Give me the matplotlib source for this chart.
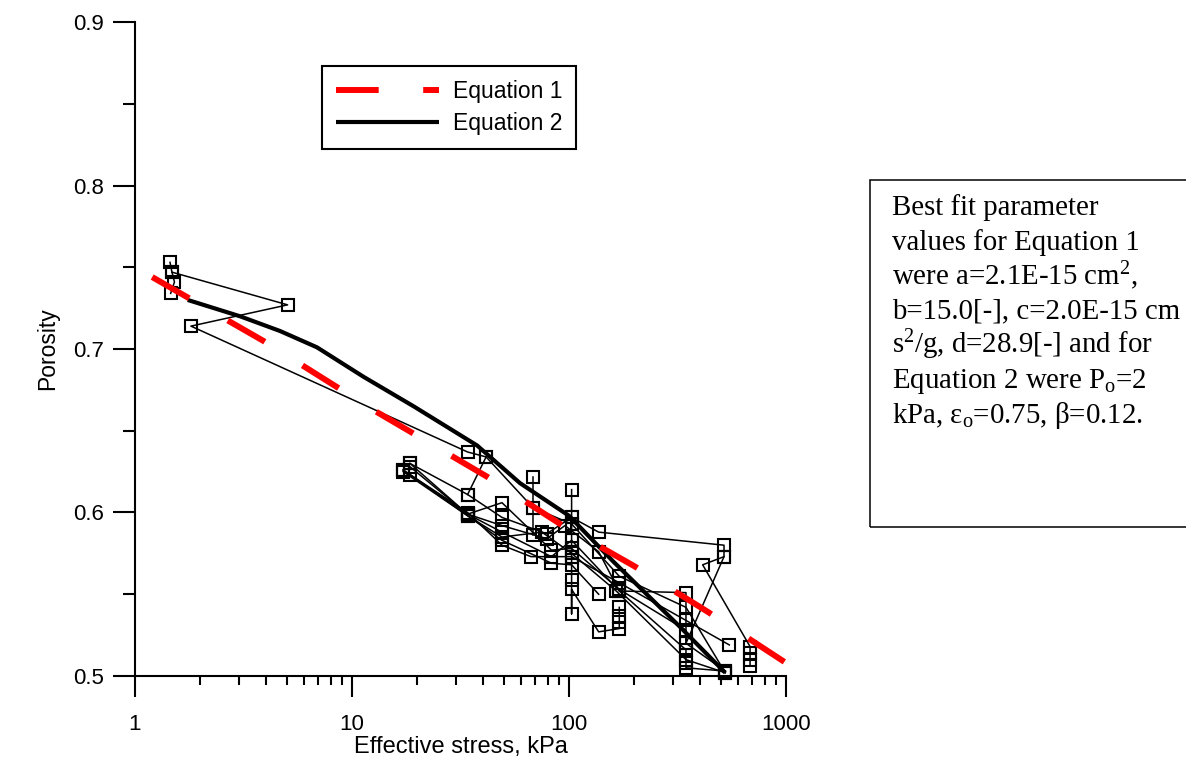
import numpy as np
import matplotlib.pyplot as plt
from matplotlib.ticker import FixedLocator, FixedFormatter, NullFormatter, MultipleLocator
from matplotlib.patches import Rectangle

plt.rcParams['font.family'] = ['Liberation Sans', 'DejaVu Sans']
plt.rcParams['mathtext.fontset'] = 'custom'
plt.rcParams['mathtext.rm'] = 'Liberation Serif'
plt.rcParams['mathtext.it'] = 'Liberation Serif:italic'
plt.rcParams['mathtext.bf'] = 'Liberation Serif:bold'

# fitted curves
eq1_stress = [1.2, 3.9, 12.8, 41.8, 91, 201, 439, 1000]
eq1_por = [0.744, 0.705, 0.662, 0.622, 0.593, 0.567, 0.539, 0.508]
eq2_stress = [1.75, 3.05, 4.66, 6.9, 11.3, 19.2, 37.7, 59.4, 100, 160, 325, 525]
eq2_por = [0.730, 0.720, 0.711, 0.701, 0.683, 0.665, 0.641, 0.618, 0.598, 0.570, 0.530, 0.502]

# measured consolidation runs (stress kPa, porosity)
run1_stress = [1.45, 1.48, 1.52, 1.46]
run1_por = [0.753, 0.747, 0.741, 0.734]
run2_stress = [1.48, 5.05, 1.81, 34.1, 41.5, 34.1]
run2_por = [0.747, 0.727, 0.714, 0.637, 0.634, 0.611]
run3_stress = [41.5, 68.2, 102.8, 170.5, 346, 525]
run3_por = [0.634, 0.603, 0.593, 0.561, 0.542, 0.502]
run4_stress = [18.5, 34.1, 49.1, 78.9, 102.8, 137, 518, 518, 413, 683, 683, 683, 683]
run4_por = [0.630, 0.611, 0.597, 0.587, 0.597, 0.588, 0.580, 0.573, 0.568, 0.518, 0.514, 0.510, 0.506]
run5_stress = [17.2, 34.1, 49.1, 83, 102.8, 170.5, 346, 346, 518]
run5_por = [0.626, 0.599, 0.606, 0.577, 0.578, 0.553, 0.528, 0.520, 0.573]
run6_stress = [68.2, 68.2, 68.2]
run6_por = [0.622, 0.603, 0.586]
run7_stress = [102.8, 102.8, 102.8, 102.8, 102.8, 102.8, 102.8, 137, 170.5, 170.5, 170.5, 170.5]
run7_por = [0.614, 0.597, 0.583, 0.573, 0.559, 0.538, 0.553, 0.527, 0.529, 0.533, 0.537, 0.542]
run8_stress = [18.5, 34.1, 49.1, 83, 102.8, 137]
run8_por = [0.623, 0.598, 0.583, 0.569, 0.568, 0.550]
run9_stress = [17.2, 34.1, 49.1, 66.8, 102.8, 170.5, 346, 548]
run9_por = [0.626, 0.600, 0.580, 0.573, 0.573, 0.557, 0.534, 0.519]
run10_stress = [18.5, 34.1, 49.1, 79, 95.8, 137, 170.5, 346, 346, 525]
run10_por = [0.630, 0.599, 0.592, 0.584, 0.592, 0.576, 0.552, 0.551, 0.520, 0.503]
run11_stress = [18.5, 34.1, 49.1, 83, 102.8, 170.5, 346, 346, 346, 525]
run11_por = [0.628, 0.599, 0.588, 0.573, 0.583, 0.552, 0.516, 0.508, 0.505, 0.503]
run12_stress = [17.2, 34.1, 49.1, 75, 102.8, 165, 346, 525]
run12_por = [0.625, 0.598, 0.585, 0.588, 0.575, 0.552, 0.510, 0.502]

runs = [(run1_stress, run1_por), (run2_stress, run2_por), (run3_stress, run3_por),
        (run4_stress, run4_por), (run5_stress, run5_por), (run6_stress, run6_por),
        (run7_stress, run7_por), (run8_stress, run8_por), (run9_stress, run9_por),
        (run10_stress, run10_por), (run11_stress, run11_por), (run12_stress, run12_por)]

box_lines = ['Best fit parameter',
             'values for Equation 1',
             r'were a=2.1E-15 cm$^\mathrm{2}$,',
             'b=15.0[-], c=2.0E-15 cm',
             r's$^\mathrm{2}$/g, d=28.9[-] and for',
             r'Equation 2 were P$_\mathrm{o}$=2',
             r'kPa, ε$_\mathrm{o}$=0.75, β=0.12.']

W, H = 1186, 761
fig = plt.figure(figsize=(W / 100, H / 100), dpi=100)
ax = fig.add_axes([135 / W, 1 - 676 / H, (786 - 135) / W, (676 - 22) / H])

for xs, ys in runs:
    ax.plot(xs, ys, color='black', lw=1.1, marker='s', ms=8, mfc='none',
            mec='black', mew=1.5, clip_on=False)

l2, = ax.plot(eq2_stress, eq2_por, color='black', lw=3.0, solid_capstyle='butt')
l1, = ax.plot(eq1_stress, eq1_por, color='#ff0000', lw=4.3, dashes=(7.15, 7.45),
              dash_capstyle='butt')

ax.set_xscale('log')
ax.set_xlim(1, 1000)
ax.set_ylim(0.5, 0.9)
ax.xaxis.set_major_locator(FixedLocator([1, 10, 100, 1000]))
ax.xaxis.set_major_formatter(FixedFormatter(['1', '10', '100', '1000']))
minors = [m * d for d in (1, 10, 100) for m in range(2, 10)]
ax.xaxis.set_minor_locator(FixedLocator(minors))
ax.xaxis.set_minor_formatter(NullFormatter())
ax.yaxis.set_major_locator(MultipleLocator(0.1))
ax.yaxis.set_minor_locator(MultipleLocator(0.05))
ax.yaxis.set_major_formatter(lambda v, p: '%.1f' % v)

for s in ['top', 'right']:
    ax.spines[s].set_visible(False)
for s in ['left', 'bottom']:
    ax.spines[s].set_linewidth(1.5)

ax.tick_params(axis='x', which='major', direction='out', length=15, width=1.5,
               pad=12, labelsize=16)
ax.tick_params(axis='x', which='minor', direction='out', length=6.5, width=1.5)
ax.tick_params(axis='y', which='major', direction='out', length=15.5, width=1.5,
               pad=7, labelsize=16)
ax.tick_params(axis='y', which='minor', direction='out', length=8.5, width=1.5)

ax.set_xlabel('Effective stress, kPa', fontsize=17, labelpad=1)
ax.set_ylabel('Porosity', fontsize=16.5, labelpad=10)

leg = ax.legend([l1, l2], ['Equation 1', 'Equation 2'], loc='upper left',
                bbox_to_anchor=(0.288, 0.933), borderaxespad=0, fontsize=16.5,
                handlelength=4.5, handletextpad=0.6, borderpad=0.6,
                labelspacing=0.42, fancybox=False, framealpha=1)
leg.get_frame().set_edgecolor('black')
leg.get_frame().set_linewidth(1.5)

# parameter box on the right
fig.patches.append(Rectangle((870 / W, 1 - 527 / H), 0.4, (527 - 180) / H,
                             transform=fig.transFigure, fill=False,
                             edgecolor='black', lw=1.1, clip_on=False))
for i, t in enumerate(box_lines):
    fig.text(892 / W, 1 - (215 + i * 34.6) / H, t, fontsize=20.8,
             family='Liberation Serif', va='baseline', ha='left')

fig.savefig('out.png', dpi=100)
